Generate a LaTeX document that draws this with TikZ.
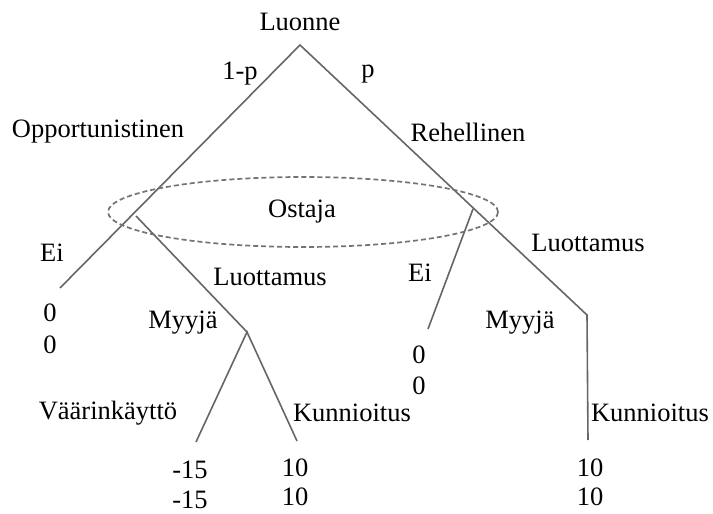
\documentclass[tikz,border=0pt]{standalone}
\usepackage{fontspec}
\setmainfont{Liberation Serif}
\begin{document}
\begin{tikzpicture}[x=1pt,y=-1pt,
  branch/.style={draw=black!60,line width=1.6pt},
  infoset/.style={draw=black!55,line width=1.7pt,dash pattern=on 5pt off 3pt},
  lbl/.style={inner sep=0pt,font=\fontsize{26.5}{30}\selectfont}]
\useasboundingbox (0,0) rectangle (713,514);

% decision points and leaves
\coordinate (root) at (300,45);
\coordinate (eiL)  at (60,288);
\coordinate (buyL) at (136,216);
\coordinate (myL)  at (247,332);
\coordinate (abuse) at (196,442);
\coordinate (honL) at (297,441);
\coordinate (buyR) at (473,209);
\coordinate (eiR)  at (428,329);
\coordinate (myR)  at (587,315);
\coordinate (honR) at (588,440);

% branches
\draw[branch] (eiL) -- (root) -- (myR) -- (honR);
\draw[branch] (buyL) -- (myL);
\draw[branch] (abuse) -- (myL) -- (honL);
\draw[branch] (buyR) -- (eiR);

% buyer's information set
\draw[infoset] (303,212) ellipse [x radius=195, y radius=35];

% labels
\node[lbl] (tNature) at (300,22) {Luonne};
\node[lbl] (tq) at (240,74) {1-p};
\node[lbl] (tp) at (368,74) {p};
\node[lbl] (tOpp) at (98,132) {Opportunistinen};
\node[lbl] (tHon) at (468,132) {Rehellinen};
\node[lbl] (tBuyer) at (302,212) {Ostaja};
\node[lbl] (tEiL) at (52,253) {Ei};
\node[lbl] (tTrustL) at (270,277) {Luottamus};
\node[lbl] (tEiR) at (420,273) {Ei};
\node[lbl] (tTrustR) at (588,243) {Luottamus};
\node[lbl] (tSellerL) at (183,323) {Myyjä};
\node[lbl] (tSellerR) at (520,323) {Myyjä};
\node[lbl] (tAbuse) at (108,413) {Väärinkäyttö};
\node[lbl] (tHonL) at (352,413) {Kunnioitus};
\node[lbl] (tHonR) at (650,413) {Kunnioitus};

% payoffs
\node[lbl] (pL1) at (50,313) {0};
\node[lbl] (pL2) at (50,345) {0};
\node[lbl] (pR1) at (419,355) {0};
\node[lbl] (pR2) at (419,386) {0};
\node[lbl] (pA1) at (190,470) {-15};
\node[lbl] (pA2) at (190,500) {-15};
\node[lbl] (pH1) at (295,468) {10};
\node[lbl] (pH2) at (295,497) {10};
\node[lbl] (pK1) at (590,468) {10};
\node[lbl] (pK2) at (590,497) {10};
\end{tikzpicture}
\end{document}
